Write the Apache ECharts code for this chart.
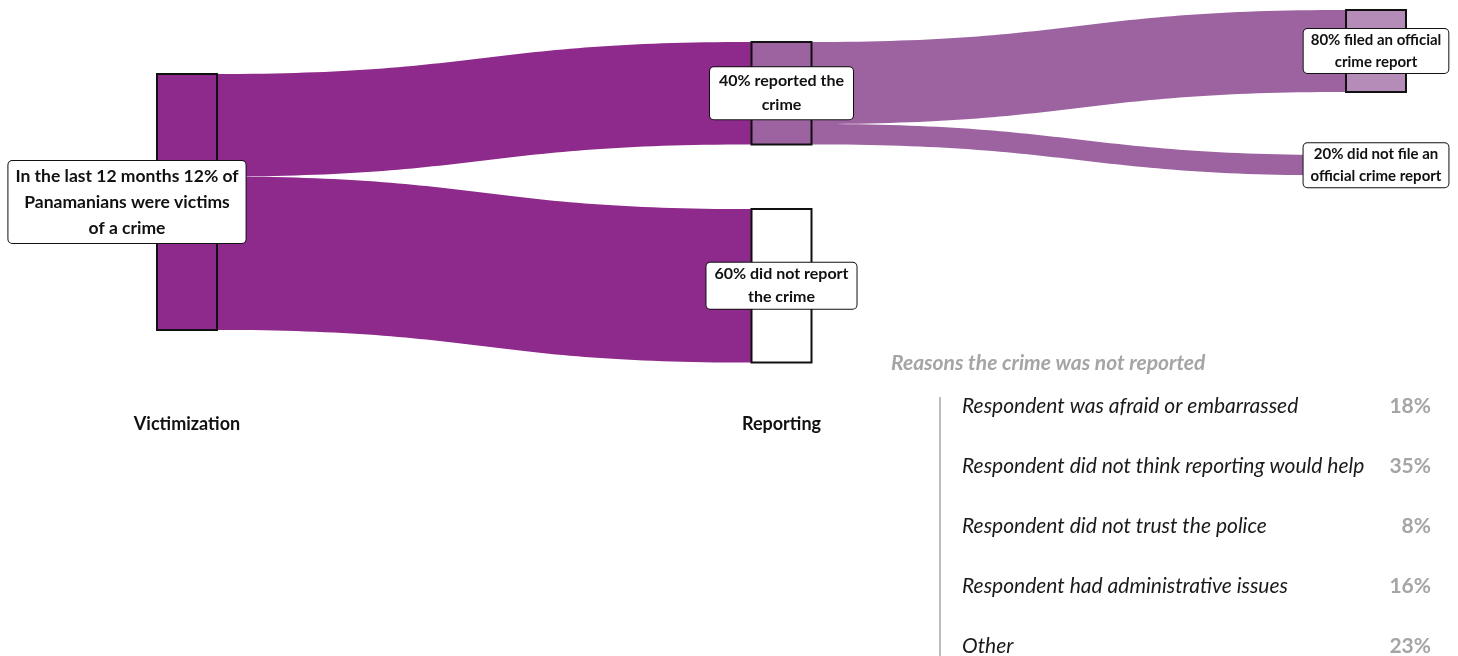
<!DOCTYPE html>
<html>
<head>
<meta charset="utf-8">
<script src="https://cdn.jsdelivr.net/npm/echarts@6/dist/echarts.min.js"></script>
<style>
  html, body { margin: 0; padding: 0; background: #fff; }
  #chart { width: 1458px; height: 656px; }
</style>
</head>
<body>
<div id="chart"></div>
<script>
// ---- data ----
const nodeNames = ['Victims', 'Reported', 'Not reported', 'Filed', 'Not filed'];
const nodeDepths = [0, 1, 1, 2, 2];
const nodeLabels = [
  'In the last 12 months 12% of\nPanamanians were victims\nof a crime',
  '40% reported the\ncrime',
  '60% did not report\nthe crime',
  '80% filed an official\ncrime report',
  '20% did not file an\nofficial crime report'
];
const linkSources = ['Victims', 'Victims', 'Reported', 'Reported'];
const linkTargets = ['Reported', 'Not reported', 'Filed', 'Not filed'];
const linkValues = [40, 60, 32, 8];
const stageLabels = ['Victimization', 'Reporting'];
const reasonsTitle = 'Reasons the crime was not reported';
const reasons = [
  'Respondent was afraid or embarrassed',
  'Respondent did not think reporting would help',
  'Respondent did not trust the police',
  'Respondent had administrative issues',
  'Other'
];
const reasonPcts = ['18%', '35%', '8%', '16%', '23%'];

// ---- layout / style ----
const FONT = 'Lato, "Noto Sans", sans-serif';
const PURPLE = '#8e2a8b';
const PURPLE2 = '#9c63a0';
const PURPLE3 = '#b58cb8';
const SK = { left: 157, top: 10, width: 1249, height: 264, nodeWidth: 60, nodeGap: 8 };
// vertical placement of the nodes (fraction of sankey layout height)
const nodeLocalY = [0.2424, 0.1212, 0.7538, 0.0, 0.5492];
const nodeStyles = [
  { color: PURPLE, borderColor: '#111', borderWidth: 2 },
  { color: PURPLE2, borderColor: '#111', borderWidth: 2 },
  { color: '#ffffff', borderColor: '#111', borderWidth: 2 },
  { color: PURPLE3, borderColor: '#111', borderWidth: 2 },
  { color: 'rgba(0,0,0,0)', borderWidth: 0 }
];
const labelFont = [17.5, 16, 16, 15, 15];
const labelLH = [26, 24, 23, 22, 22];
const labelPad = [[2, 7], [2, 9], [0, 8], [0, 7], [0, 7]];
const labelOffset = [[-60, 0], [0, 0], [0, 0], [0, 0], [0, 0]];
const linkColors = [PURPLE, PURPLE, PURPLE2, PURPLE2];

const nodes = nodeNames.map((n, i) => ({
  name: n,
  depth: nodeDepths[i],
  localY: nodeLocalY[i],
  itemStyle: nodeStyles[i],
  label: {
    formatter: nodeLabels[i],
    fontSize: labelFont[i],
    lineHeight: labelLH[i],
    padding: labelPad[i],
    offset: labelOffset[i]
  }
}));
const links = linkValues.map((v, i) => ({
  source: linkSources[i],
  target: linkTargets[i],
  value: v,
  lineStyle: { color: linkColors[i], opacity: 1 }
}));

const kx = (SK.width - SK.nodeWidth) / 2;
const graphics = [];
stageLabels.forEach((t, i) => {
  graphics.push({
    type: 'text',
    x: SK.left + i * kx + SK.nodeWidth / 2,
    y: 424,
    style: { text: t, font: 'bold 18px ' + FONT, fill: '#111', textAlign: 'center', textVerticalAlign: 'middle' }
  });
});
graphics.push({
  type: 'text', x: 891, y: 363,
  style: { text: reasonsTitle, font: 'italic bold 21px ' + FONT, fill: '#a5a5a5', textAlign: 'left', textVerticalAlign: 'middle' }
});
graphics.push({
  type: 'line', shape: { x1: 940, y1: 397, x2: 940, y2: 660 },
  style: { stroke: '#bdbdbd', lineWidth: 2 }
});
reasons.forEach((r, i) => {
  const y = 406 + i * 60;
  graphics.push({
    type: 'text', x: 962, y: y,
    style: { text: r, font: 'italic 21px ' + FONT, fill: '#1a1a1a', textAlign: 'left', textVerticalAlign: 'middle' }
  });
  graphics.push({
    type: 'text', x: 1431, y: y,
    style: { text: reasonPcts[i], font: 'bold 21px ' + FONT, fill: '#a5a5a5', textAlign: 'right', textVerticalAlign: 'middle' }
  });
});

const chart = echarts.init(document.getElementById('chart'), null, { renderer: 'canvas' });
chart.setOption({
  backgroundColor: '#ffffff',
  animation: false,
  series: [{
    type: 'sankey',
    left: SK.left, top: SK.top, width: SK.width, height: SK.height,
    nodeWidth: SK.nodeWidth,
    nodeGap: SK.nodeGap,
    nodeAlign: 'left',
    layoutIterations: 0,
    draggable: false,
    emphasis: { disabled: true },
    data: nodes,
    links: links,
    lineStyle: { curveness: 0.5, opacity: 1 },
    label: {
      show: true,
      position: 'inside',
      color: '#111',
      fontFamily: FONT,
      fontWeight: 'bold',
      align: 'center',
      backgroundColor: '#ffffff',
      borderColor: '#111',
      borderWidth: 1,
      borderRadius: 4
    }
  }],
  graphic: graphics
});
</script>
</body>
</html>
